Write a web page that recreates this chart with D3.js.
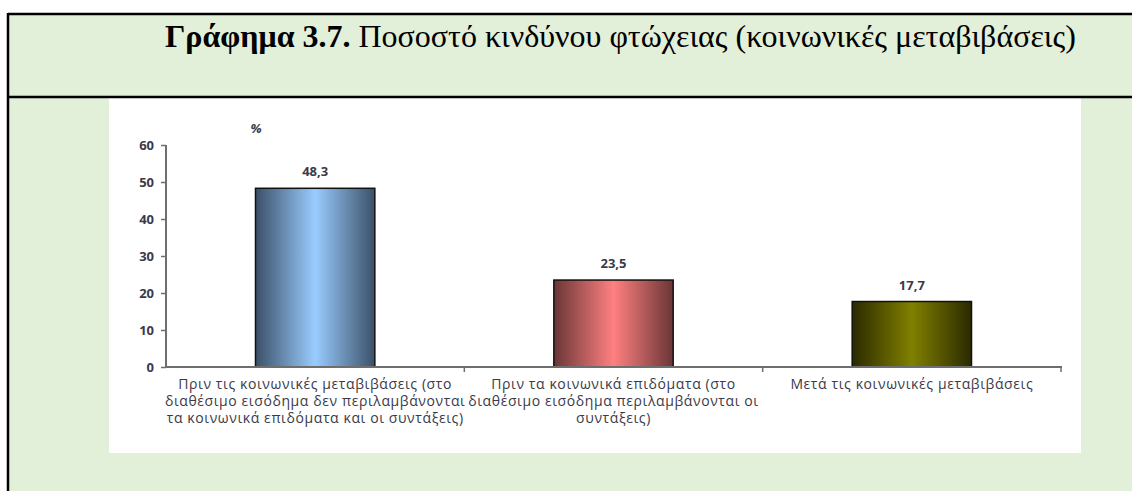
<!DOCTYPE html>
<html lang="el">
<head>
    <meta charset="UTF-8">
    <script src="https://d3js.org/d3.v7.min.js"></script>
    <title>Γράφημα 3.7</title>
    <style>
        body{ margin:0; background:#fff; }
        .tick text{ font-family: "Open Sans", Lato, sans-serif; }
    </style>
</head>
<body>
    <script>
        // data
        var categories = ["before_transfers", "before_benefits", "after_transfers"];
        var catLines = [
            ["Πριν τις κοινωνικές μεταβιβάσεις (στο", "διαθέσιμο εισόδημα δεν περιλαμβάνονται", "τα κοινωνικά επιδόματα και οι συντάξεις)"],
            ["Πριν τα κοινωνικά επιδόματα (στο", "διαθέσιμο εισόδημα περιλαμβάνονται οι", "συντάξεις)"],
            ["Μετά τις κοινωνικές μεταβιβάσεις"]
        ];
        var values = [48.3, 23.5, 17.7];
        var yTicks = [0, 10, 20, 30, 40, 50, 60];
        var barColors = [
            {edge:"#3b5068", mid:"#99ccff"},
            {edge:"#6a3636", mid:"#ff8080"},
            {edge:"#2a2a00", mid:"#808000"}
        ];

        var W = 1132, H = 491;
        var green = "#e2efd9";
        var txt = "#3a3a48";

        var svg = d3.select("body").append("svg").attr("width", W).attr("height", H);

        // table frame
        svg.append("rect").attr("x", 8).attr("y", 14).attr("width", W - 8).attr("height", H - 14).style("fill", green);
        svg.append("rect").attr("x", 109).attr("y", 98).attr("width", 1081 - 109).attr("height", 453 - 98).style("fill", "#fff");
        svg.append("line").attr("x1", 8).attr("x2", W).attr("y1", 14).attr("y2", 14).style("stroke", "#000").style("stroke-width", 2.5);
        svg.append("line").attr("x1", 8).attr("x2", W).attr("y1", 97).attr("y2", 97).style("stroke", "#000").style("stroke-width", 2.5);
        svg.append("line").attr("x1", 8).attr("x2", 8).attr("y1", 13).attr("y2", H).style("stroke", "#000").style("stroke-width", 2.5);

        // title
        var title = svg.append("text").attr("x", 165).attr("y", 47)
            .style("font-family", "'Liberation Serif', 'Times New Roman', serif")
            .style("font-size", "32px").style("fill", "#000");
        title.append("tspan").style("font-weight", "bold").text("Γράφημα 3.7.");
        title.append("tspan").text(" Ποσοστό κινδύνου φτώχειας (κοινωνικές μεταβιβάσεις)");

        // scales
        var x = d3.scaleBand().domain(categories).range([166, 1061]).paddingInner(0.6).paddingOuter(0.3);
        var y = d3.scaleLinear().domain([0, 60]).range([367, 145]);

        // gradients
        var defs = svg.append("defs");
        barColors.forEach(function(c, i){
            var g = defs.append("linearGradient").attr("id", "g" + i).attr("x1", "0%").attr("x2", "100%").attr("y1", "0%").attr("y2", "0%");
            g.append("stop").attr("offset", "0%").attr("stop-color", c.edge);
            g.append("stop").attr("offset", "50%").attr("stop-color", c.mid);
            g.append("stop").attr("offset", "100%").attr("stop-color", c.edge);
        });

        // bars
        svg.selectAll("rect.bar").data(values).enter().append("rect").classed("bar", true)
            .attr("x", function(d, i){ return x(categories[i]); })
            .attr("y", function(d){ return y(d); })
            .attr("width", x.bandwidth())
            .attr("height", function(d){ return y(0) - y(d); })
            .style("fill", function(d, i){ return "url(#g" + i + ")"; })
            .style("stroke", "#111").style("stroke-width", 1.5);

        // value labels
        svg.selectAll("text.val").data(values).enter().append("text").classed("val", true)
            .attr("x", function(d, i){ return x(categories[i]) + x.bandwidth() / 2; })
            .attr("y", function(d){ return y(d) - 12; })
            .attr("text-anchor", "middle")
            .style("font-family", "'Open Sans', sans-serif").style("font-size", "13px").style("font-weight", "bold")
            .style("fill", txt)
            .text(function(d){ return d3.format(".1f")(d).replace(".", ","); });

        // y axis
        var yAxis = d3.axisLeft(y).tickValues(yTicks).tickSize(5).tickPadding(7);
        var gy = svg.append("g").attr("transform", "translate(166,0)").call(yAxis);
        gy.select(".domain").attr("d", "M0," + y(60) + "V" + y(0)).style("stroke", "#6e6e6e").style("stroke-width", 2);
        gy.selectAll(".tick line").style("stroke", "#6e6e6e").style("stroke-width", 1.5);
        gy.selectAll(".tick text").style("font-size", "13px").style("font-weight", "bold").style("fill", txt);

        // x axis: ticks at category boundaries
        var bounds = [166, 166 + x.step(), 166 + 2 * x.step(), 1061];
        svg.append("line").attr("x1", 165).attr("x2", 1062).attr("y1", y(0)).attr("y2", y(0))
            .style("stroke", "#6e6e6e").style("stroke-width", 2);
        svg.selectAll("line.xt").data(bounds.slice(1)).enter().append("line").classed("xt", true)
            .attr("x1", function(d){ return d; }).attr("x2", function(d){ return d; })
            .attr("y1", y(0)).attr("y2", y(0) + 5)
            .style("stroke", "#6e6e6e").style("stroke-width", 1.5);

        // category labels
        var cat = svg.selectAll("text.cat").data(catLines).enter().append("text").classed("cat", true)
            .attr("text-anchor", "middle")
            .style("font-family", "'Open Sans', sans-serif").style("font-size", "14px")
            .style("letter-spacing", "0.6px")
            .style("fill", txt);
        cat.each(function(lines, i){
            var t = d3.select(this);
            var cx = x(categories[i]) + x.bandwidth() / 2;
            lines.forEach(function(l, j){
                t.append("tspan").attr("x", cx).attr("y", 389 + j * 17).text(l);
            });
        });

        // unit
        svg.append("text").attr("x", 256).attr("y", 133).attr("text-anchor", "middle")
            .style("font-family", "'Open Sans', sans-serif").style("font-size", "13px").style("font-weight", "bold").style("font-style", "italic")
            .style("fill", txt).text("%");
    </script>
</body>
</html>
